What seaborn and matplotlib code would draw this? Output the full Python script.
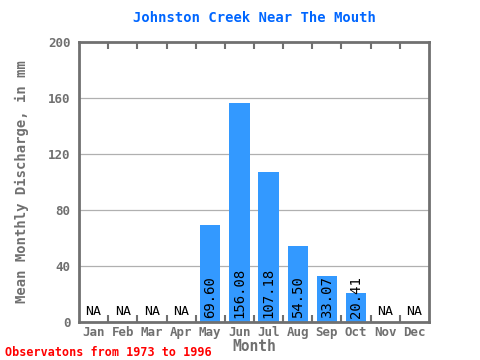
import numpy as np
import pandas as pd
import seaborn as sns
import matplotlib
matplotlib.use("Agg")
import matplotlib.pyplot as plt
from matplotlib.ticker import MultipleLocator

months = ["Jan", "Feb", "Mar", "Apr", "May", "Jun", "Jul", "Aug", "Sep", "Oct", "Nov", "Dec"]
discharge = [np.nan, np.nan, np.nan, np.nan, 69.60, 156.08, 107.18, 54.50, 33.07, 20.41, np.nan, np.nan]

sns.set_style("white")
plt.rcParams['font.family'] = ['DejaVu Sans Mono']

df = pd.DataFrame({"month": months, "discharge": discharge})

fig = plt.figure(figsize=(4.8, 3.6), dpi=100)
ax = fig.add_axes([79/480, 1 - 322/360, 350/480, 280/360])

gray = "#707070"
for y in [40, 80, 120, 160]:
    ax.axhline(y, color="#b0b0b0", lw=0.9, zorder=0)

sns.barplot(data=df, x="month", y="discharge", color="#3399ff", width=0.7,
            saturation=1, linewidth=0, edgecolor="none", ax=ax, zorder=2)

for i, v in enumerate(discharge):
    if np.isnan(v):
        ax.text(i, 3, "NA", ha="center", va="bottom", fontsize=9.5, color="black")
    else:
        ax.text(i, 2.5, f"{v:.2f}", ha="center", va="bottom", rotation=90,
                fontsize=10, color="black", zorder=3)

ax.set_ylim(0, 200)
ax.set_xlim(-0.5, 11.5)
ax.yaxis.set_major_locator(MultipleLocator(40))
ax.yaxis.set_minor_locator(MultipleLocator(10))
ax.tick_params(axis="y", which="major", direction="in", length=6, width=1.5, colors=gray,
               labelsize=9, pad=6)
ax.tick_params(axis="y", which="minor", direction="in", length=3, width=1.2, color=gray)
ax.set_xticks(range(12))
ax.set_xticklabels(months)
ax.tick_params(axis="x", which="major", length=0, colors=gray, labelsize=9, pad=3)
ax.set_xticks(np.arange(0.5, 11.5, 1), minor=True)
ax.tick_params(axis="x", which="minor", direction="in", length=5, width=1.5, color=gray,
               top=True, bottom=True)
for lab in ax.get_xticklabels() + ax.get_yticklabels():
    lab.set_fontweight("bold")
    lab.set_color(gray)

for s in ax.spines.values():
    s.set_visible(True)
    s.set_color(gray)
    s.set_linewidth(2)

ax.set_xlabel("Month", fontsize=10.5, fontweight="bold", color=gray, labelpad=0)
ax.set_ylabel("Mean Monthly Discharge, in mm", fontsize=10, fontweight="bold", color=gray,
              labelpad=14)
fig.text(0.5 * (79 + 429) / 480, 1 - 18/360, "Johnston Creek Near The Mouth", ha="center",
         va="center", fontsize=10, fontweight="bold", color="#0066ff")
fig.text(5/480, 1 - 352/360, "Observatons from 1973 to 1996", ha="left", va="center",
         fontsize=8.5, fontweight="bold", color="#ff0000")

fig.savefig("out.png", dpi=100)
